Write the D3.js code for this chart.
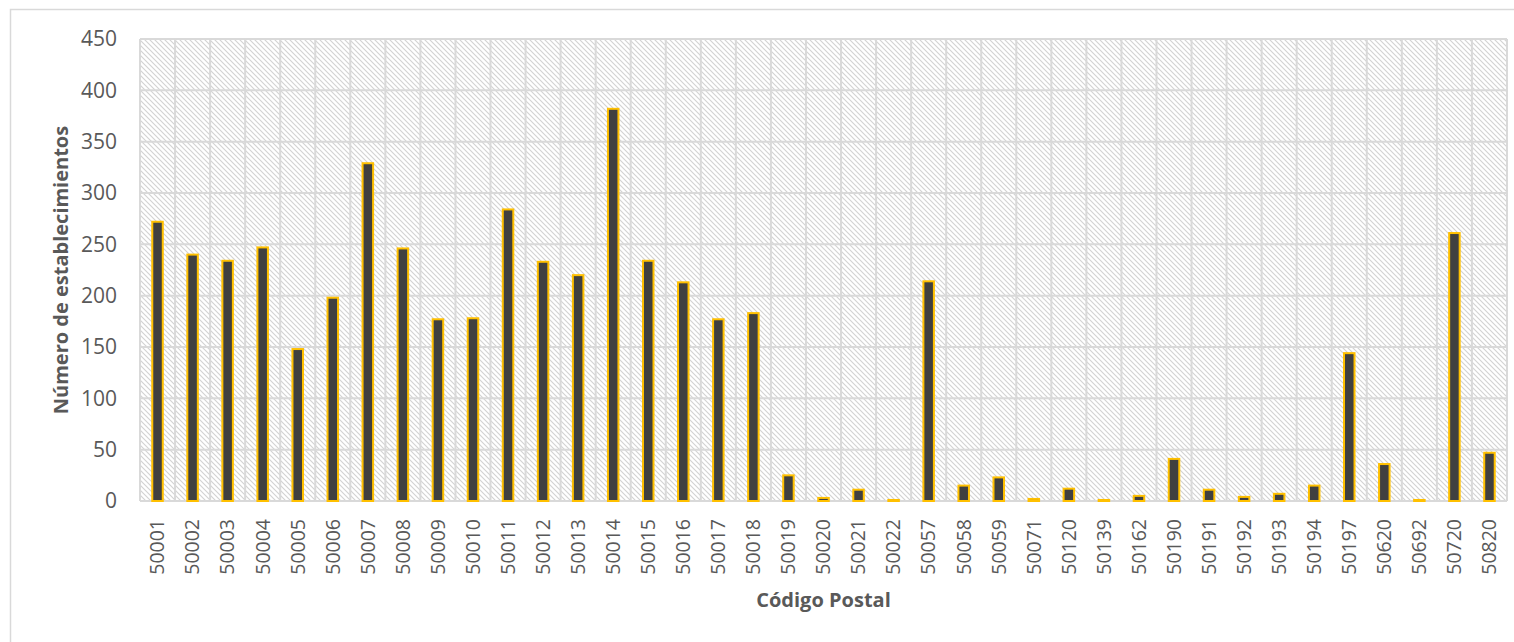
<!DOCTYPE html>
<html>
<head>
<meta charset="utf-8">
<script src="https://cdn.jsdelivr.net/npm/d3@7"></script>
<style>
  body { margin: 0; background: #fff; }
  svg { display: block; font-family: "Open Sans", sans-serif; }
</style>
</head>
<body>
<div id="chart"></div>
<script>
const codes = ["50001","50002","50003","50004","50005","50006","50007","50008","50009","50010",
  "50011","50012","50013","50014","50015","50016","50017","50018","50019","50020","50021","50022",
  "50057","50058","50059","50071","50120","50139","50162","50190","50191","50192","50193","50194",
  "50197","50620","50692","50720","50820"];
const counts = [272,240,234,247,148,198,329,246,177,178,
  284,233,220,382,234,213,177,183,25,3,11,1,
  214,15,23,2,12,1,5,41,11,4,7,15,
  144,36,1,261,47];
const yTicks = [0,50,100,150,200,250,300,350,400,450];

const width = 1514, height = 642;
const margin = { left: 140, right: 7, top: 39, bottom: 141 };

const svg = d3.select("#chart").append("svg")
  .attr("width", width)
  .attr("height", height);

// chart frame
svg.append("rect")
  .attr("x", 10.5).attr("y", 9.5)
  .attr("width", width + 20).attr("height", height + 20)
  .attr("fill", "#fff")
  .attr("stroke", "#d9d9d9")
  .attr("stroke-width", 1.5);

const defs = svg.append("defs");
const pat = defs.append("pattern")
  .attr("id", "hatch")
  .attr("patternUnits", "userSpaceOnUse")
  .attr("width", 5).attr("height", 5);
pat.append("rect").attr("width", 5).attr("height", 5).attr("fill", "#fff");
pat.append("path")
  .attr("d", "M0,0L5,5M-1,4L1,6M4,-1L6,1")
  .attr("stroke", "#d2d2d2")
  .attr("stroke-width", 1.1);

const x = d3.scaleBand()
  .domain(codes)
  .range([margin.left, width - margin.right])
  .paddingInner(0.7)
  .paddingOuter(0.35);

const y = d3.scaleLinear()
  .domain([0, 450])
  .range([height - margin.bottom, margin.top]);

const plotL = margin.left, plotR = width - margin.right;
const step = x.step();

svg.append("rect")
  .attr("x", plotL).attr("y", margin.top)
  .attr("width", plotR - plotL).attr("height", y(0) - margin.top)
  .attr("fill", "url(#hatch)");

// gridlines
const grid = svg.append("g").attr("stroke", "#d9d9d9").attr("stroke-width", 2);
grid.selectAll("line.h")
  .data(yTicks)
  .join("line")
  .attr("class", "h")
  .attr("x1", plotL).attr("x2", plotR)
  .attr("y1", d => y(d)).attr("y2", d => y(d));
grid.selectAll("line.v")
  .data(d3.range(codes.length + 1))
  .join("line")
  .attr("class", "v")
  .attr("x1", i => plotL + i * step).attr("x2", i => plotL + i * step)
  .attr("y1", margin.top).attr("y2", y(0));

// bars
svg.append("g")
  .selectAll("rect")
  .data(codes)
  .join("rect")
  .attr("x", d => x(d))
  .attr("y", (d, i) => y(counts[i]))
  .attr("width", x.bandwidth())
  .attr("height", (d, i) => y(0) - y(counts[i]))
  .attr("fill", "#404040")
  .attr("stroke", "#ffc000")
  .attr("stroke-width", 2);

// y axis
const yAxis = svg.append("g")
  .attr("transform", `translate(${plotL},0)`)
  .call(d3.axisLeft(y).tickValues(yTicks).tickSize(0).tickPadding(23));
yAxis.select(".domain").remove();
yAxis.selectAll("text")
  .attr("fill", "#595959")
  .style("font-size", "21px")
  .style("font-family", "Open Sans");

// x axis
const xAxis = svg.append("g")
  .attr("transform", `translate(0,${y(0)})`)
  .call(d3.axisBottom(x).tickSize(0));
xAxis.select(".domain").remove();
xAxis.selectAll("text")
  .attr("fill", "#595959")
  .style("font-size", "19.5px")
  .style("font-family", "Open Sans")
  .attr("text-anchor", "end")
  .attr("dy", "0.35em")
  .attr("transform", "translate(0,18) rotate(-90)")
  .attr("x", 0).attr("y", 0);

// titles
svg.append("text")
  .attr("transform", `translate(68,${(margin.top + y(0)) / 2}) rotate(-90)`)
  .attr("text-anchor", "middle")
  .attr("fill", "#595959")
  .style("font-size", "20px")
  .style("font-weight", "bold")
  .text("Número de establecimientos");

svg.append("text")
  .attr("x", (plotL + plotR) / 2)
  .attr("y", 607)
  .attr("text-anchor", "middle")
  .attr("fill", "#595959")
  .style("font-size", "20px")
  .style("font-weight", "bold")
  .text("Código Postal");
</script>
</body>
</html>
